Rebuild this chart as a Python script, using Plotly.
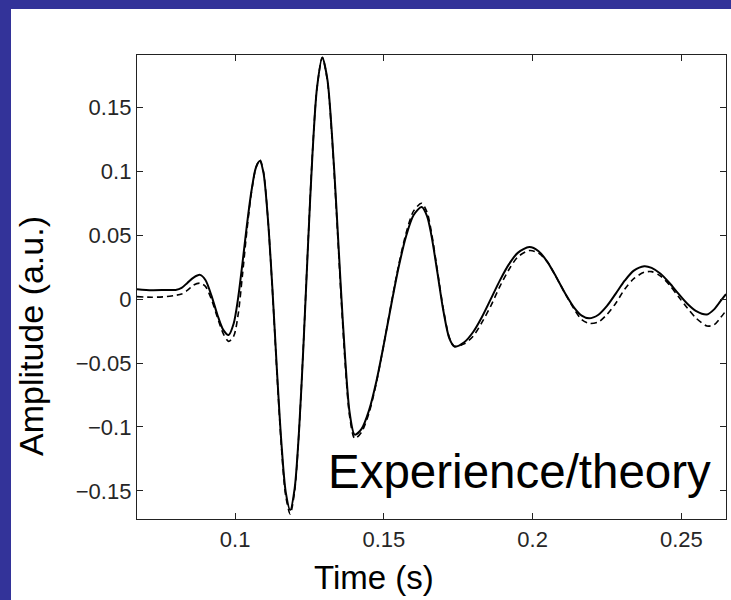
import plotly.graph_objects as go

# Time samples (s)
t = [0.067, 0.072, 0.077, 0.080, 0.082, 0.084, 0.086, 0.0882, 0.090, 0.092, 0.094, 0.096,
     0.0978, 0.0995, 0.101, 0.1025, 0.104, 0.1055, 0.107, 0.1083, 0.1095, 0.111, 0.1125,
     0.114, 0.1155, 0.117, 0.1185, 0.120, 0.1215, 0.123, 0.1245, 0.126, 0.1275, 0.1293,
     0.131, 0.1325, 0.134, 0.1355, 0.137, 0.1385, 0.1402, 0.1425, 0.145, 0.1475, 0.150,
     0.1525, 0.155, 0.1575, 0.160, 0.1627, 0.1645, 0.166, 0.168, 0.170, 0.172, 0.1737,
     0.177, 0.180, 0.183, 0.186, 0.189, 0.192, 0.195, 0.1989, 0.202, 0.205, 0.208, 0.211,
     0.214, 0.2165, 0.219, 0.222, 0.225, 0.228, 0.231, 0.234, 0.2375, 0.240, 0.243, 0.246,
     0.249, 0.252, 0.255, 0.2586, 0.261, 0.263, 0.265]

# Experiment (solid)
experience = [0.0078, 0.007, 0.0072, 0.0072, 0.0088, 0.0129, 0.0169, 0.019, 0.015, 0.003, -0.012, -0.024,
              -0.028, -0.019, 0.001, 0.029, 0.059, 0.085, 0.103, 0.108, 0.099, 0.063, 0.009,
              -0.054, -0.111, -0.151, -0.165, -0.148, -0.102, -0.034, 0.043, 0.114, 0.165, 0.189,
              0.172, 0.130, 0.073, 0.010, -0.047, -0.089, -0.106, -0.1015, -0.087, -0.064, -0.035,
              -0.004, 0.0255, 0.0496, 0.0658, 0.072, 0.065, 0.0495, 0.0206, -0.0093, -0.0307, -0.037,
              -0.0337, -0.0257, -0.0137, 0.0004, 0.0147, 0.0272, 0.0362, 0.0407, 0.0375, 0.029, 0.017, 0.0042,
              -0.0068, -0.0129, -0.015, -0.0124, -0.0053, 0.0045, 0.0146, 0.0223, 0.0258, 0.0245, 0.0198, 0.0126,
              0.0043, -0.0036, -0.0094, -0.012, -0.008, -0.002, 0.004]

# Theory (dashed)
theory = [0.002, 0.0015, 0.002, 0.003, 0.004, 0.007, 0.011, 0.0125, 0.010, 0.000, -0.014, -0.027,
          -0.033, -0.029, -0.012, 0.020, 0.055, 0.084, 0.103, 0.109, 0.100, 0.063, 0.008,
          -0.056, -0.114, -0.154, -0.168, -0.150, -0.102, -0.033, 0.044, 0.115, 0.165, 0.189,
          0.171, 0.128, 0.070, 0.006, -0.051, -0.092, -0.109, -0.104, -0.089, -0.065, -0.035,
          -0.003, 0.027, 0.052, 0.069, 0.075, 0.068, 0.052, 0.022, -0.008, -0.030, -0.037,
          -0.035, -0.029, -0.018, -0.005, 0.010, 0.023, 0.033, 0.038, 0.036, 0.029, 0.017, 0.004,
          -0.008, -0.016, -0.019, -0.018, -0.012, -0.003, 0.008, 0.016, 0.021, 0.0215, 0.018, 0.011,
          0.002, -0.007, -0.015, -0.021, -0.020, -0.015, -0.009]

x_ticks = [0.1, 0.15, 0.2, 0.25]
x_ticktext = ["0.1", "0.15", "0.2", "0.25"]
y_ticks = [-0.15, -0.1, -0.05, 0, 0.05, 0.1, 0.15]
y_ticktext = ["\u22120.15", "\u22120.1", "\u22120.05", "0", "0.05", "0.1", "0.15"]

FONT = "Liberation Sans, Arial, sans-serif"

fig = go.Figure()
fig.add_trace(go.Scatter(x=t, y=theory, mode="lines", name="theory",
                         line=dict(color="black", width=1.6, dash="6px,4px", shape="spline", smoothing=0.8)))
fig.add_trace(go.Scatter(x=t, y=experience, mode="lines", name="experience",
                         line=dict(color="black", width=2, shape="spline", smoothing=0.8)))

W, H = 731, 600
L, R, T, B = 137, 726, 55, 519
pw, ph = R - L, B - T


def px(xp):
    return (xp - L) / pw


def py(yp):
    return (B - yp) / ph


fig.add_shape(type="rect", xref="paper", yref="paper", x0=px(11), x1=px(735), y0=py(604), y1=py(9),
              fillcolor="white", line=dict(width=0), layer="below")

axis_common = dict(showline=True, mirror="ticks", linecolor="#222222", linewidth=1.3,
                   ticks="inside", ticklen=6, tickcolor="#222222", tickwidth=1.3,
                   showgrid=False, zeroline=False,
                   tickfont=dict(family=FONT, size=22, color="#262626"))

fig.update_xaxes(range=[0.067, 0.265], tickvals=x_ticks, ticktext=x_ticktext, **axis_common)
fig.update_yaxes(range=[-0.172, 0.191], tickvals=y_ticks, ticktext=y_ticktext, **axis_common)

fig.add_annotation(text="Time (s)", xref="paper", yref="paper", x=px(374), y=py(577.5),
                   showarrow=False, xanchor="center", yanchor="middle",
                   font=dict(family=FONT, size=33, color="black"))
fig.add_annotation(text="Amplitude (a.u.)", xref="paper", yref="paper", x=px(31), y=py(336),
                   showarrow=False, xanchor="center", yanchor="middle", textangle=-90,
                   font=dict(family=FONT, size=34, color="black"))
fig.add_annotation(text="Experience/theory", xref="paper", yref="paper", x=px(519.5), y=py(471.5),
                   showarrow=False, xanchor="center", yanchor="middle",
                   font=dict(family=FONT, size=47.5, color="black"))

fig.update_layout(width=W, height=H, margin=dict(l=L, r=W - R, t=T, b=H - B),
                  paper_bgcolor="#333399", plot_bgcolor="white", showlegend=False)

fig.write_html("out.html")
